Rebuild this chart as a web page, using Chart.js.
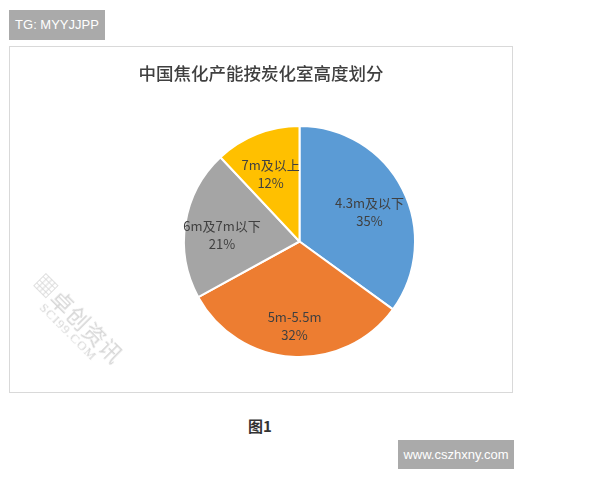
<!DOCTYPE html>
<html>
<head>
<meta charset="utf-8">
<script src="https://cdn.jsdelivr.net/npm/chart.js@4/dist/chart.umd.min.js"></script>
<style>
  html, body { margin: 0; padding: 0; background: #fff; }
  body { width: 600px; height: 480px; position: relative; overflow: hidden; font-family: "Noto Sans CJK SC", "Noto Sans", sans-serif; }
  .tag { position: absolute; background: #aaaaaa; color: #fff; font-family: "Liberation Sans", Arial, sans-serif; font-size: 13px; line-height: 30px; text-align: center; }
  #tg { left: 9px; top: 10px; width: 96px; height: 30px; }
  #site { left: 398px; top: 440px; width: 116px; height: 29px; line-height: 29px; }
  #box { position: absolute; left: 9px; top: 46px; width: 502px; height: 345px; border: 1px solid #d9d9d9; }
  #title { position: absolute; left: 0; right: 0; top: 13px; text-align: center; font-size: 17.5px; color: #404040; font-weight: 500; }
  #caption { position: absolute; left: 0; width: 520px; top: 415px; text-align: center; font-size: 15px; font-weight: bold; color: #333; }
  #mark { position: absolute; left: 48px; top: 268px; transform: rotate(45deg); transform-origin: left top; color: #d6d6d6; pointer-events: none; line-height: 1.1; }
  #mark .cn { font-size: 22px; letter-spacing: 1px; }
  #mark .en { font-size: 13px; letter-spacing: 1px; padding-left: 22px; font-family: "Liberation Serif", serif; }
</style>
</head>
<body>
<div id="tg" class="tag">TG: MYYJJPP</div>
<div id="box">
  <div id="title">中国焦化产能按炭化室高度划分</div>
  <canvas id="pie" width="502" height="345"></canvas>
</div>
<div id="mark"><div class="cn">▦卓创资讯</div><div class="en">SCI99.COM</div></div>
<div id="caption">图1</div>
<div id="site" class="tag">www.cszhxny.com</div>
<script>
// data
const categories = ['4.3m及以下', '5m-5.5m', '6m及7m以下', '7m及以上'];
const shares = [35, 32, 21, 12];
const sliceColors = ['#5b9bd5', '#ed7d31', '#a5a5a5', '#ffc000'];

// two-line labels (name + percent) drawn inside each slice
const sliceLabels = {
  id: 'sliceLabels',
  afterDatasetsDraw(chart) {
    const ctx = chart.ctx;
    const meta = chart.getDatasetMeta(0);
    const total = shares.reduce((a, b) => a + b, 0);
    ctx.save();
    ctx.font = '13px "Noto Sans CJK SC", sans-serif';
    ctx.fillStyle = '#404040';
    ctx.textAlign = 'center';
    ctx.textBaseline = 'middle';
    meta.data.forEach((arc, i) => {
      const mid = (arc.startAngle + arc.endAngle) / 2;
      const r = arc.outerRadius * 0.68;
      const x = arc.x + Math.cos(mid) * r;
      const y = arc.y + Math.sin(mid) * r + 6;
      const pct = Math.round(shares[i] / total * 100) + '%';
      ctx.fillText(categories[i], x, y - 9);
      ctx.fillText(pct, x, y + 9);
    });
    ctx.restore();
  }
};

const ctx = document.getElementById('pie').getContext('2d');
const chart = new Chart(ctx, {
  type: 'pie',
  data: {
    labels: categories,
    datasets: [{
      data: shares,
      backgroundColor: sliceColors,
      borderColor: '#ffffff',
      borderWidth: 2
    }]
  },
  options: {
    responsive: false,
    animation: false,
    layout: { padding: { top: 77, bottom: 33, left: 173, right: 96 } },
    plugins: {
      legend: { display: false },
      tooltip: { enabled: false }
    }
  },
  plugins: [sliceLabels]
});
</script>
</body>
</html>
